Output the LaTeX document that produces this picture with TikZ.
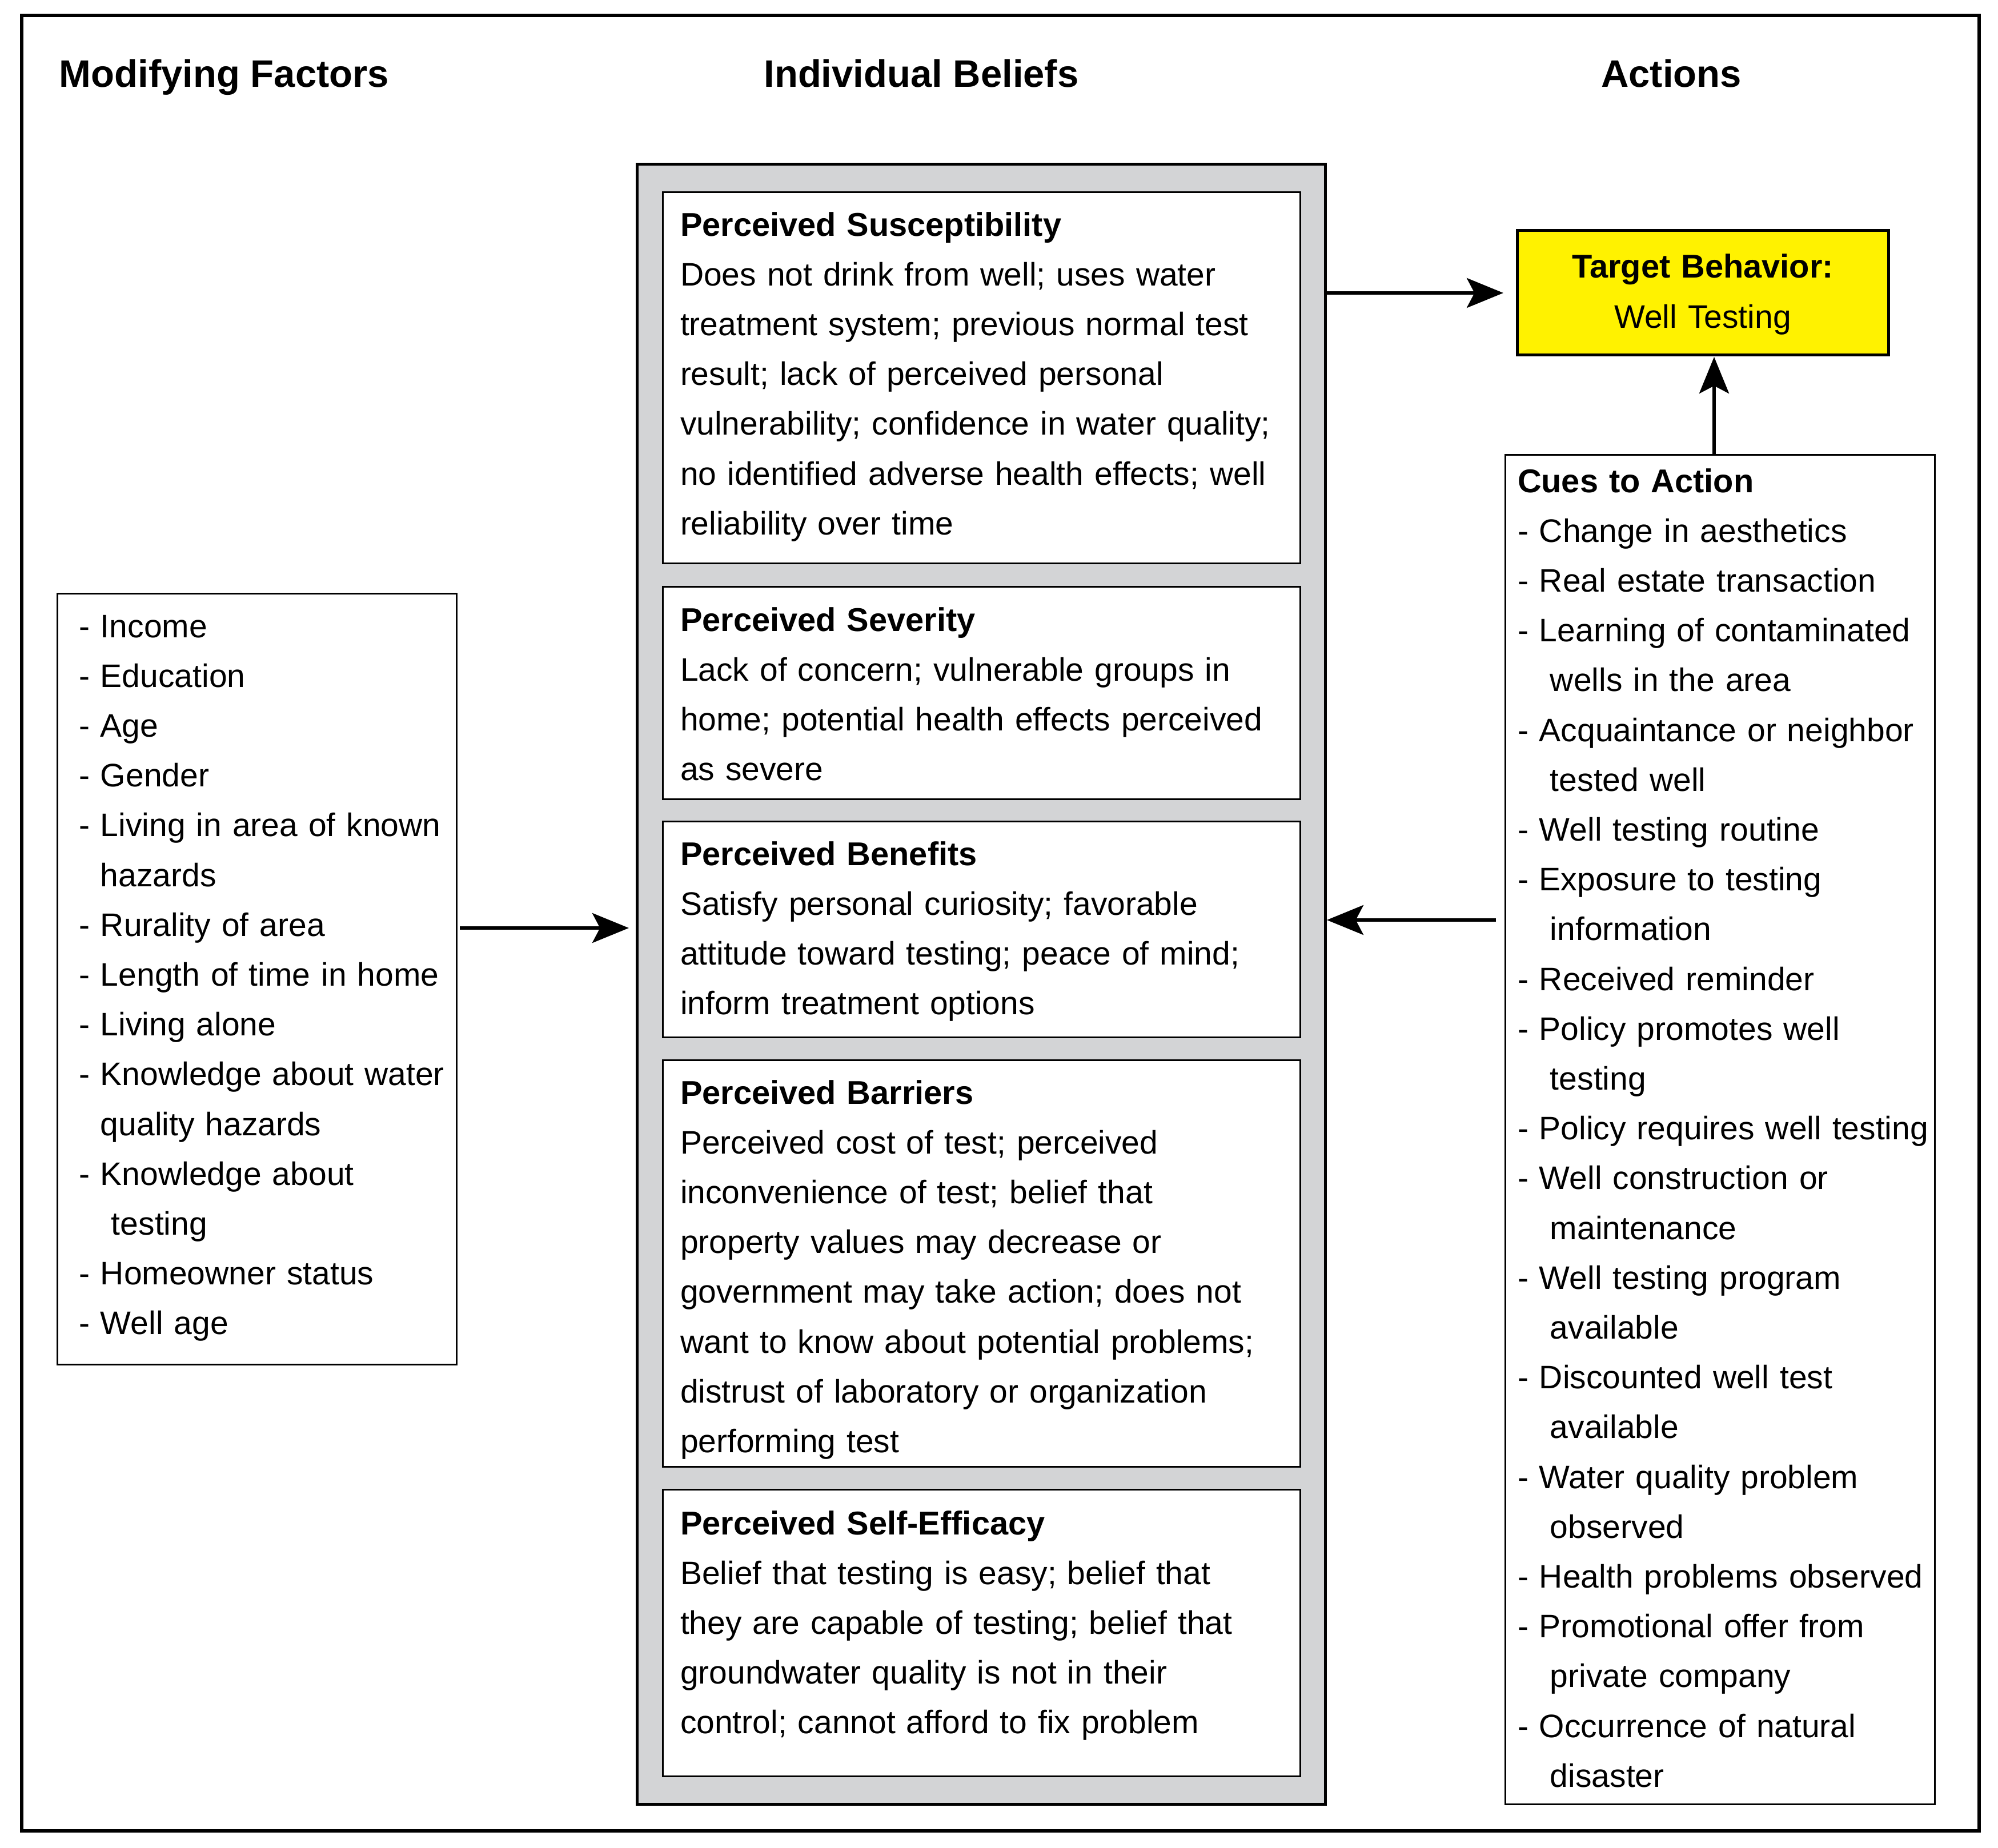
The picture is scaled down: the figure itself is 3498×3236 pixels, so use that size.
\documentclass[tikz,border=0pt]{standalone}
\usepackage{fontspec}
\setmainfont{Liberation Sans}
\usetikzlibrary{arrows.meta,calc}
\definecolor{beliefgray}{RGB}{211,212,214}
\definecolor{targetyellow}{RGB}{255,242,0}
\newcommand{\bodyfont}{\fontsize{11.4pt}{17.44pt}\selectfont}
\newcommand{\titlefont}{\fontsize{11.55pt}{17.44pt}\selectfont\bfseries}
\newcommand{\headfont}{\fontsize{13.4pt}{16pt}\selectfont\bfseries}
\newcommand{\contL}{\hphantom{-\ }}
\newcommand{\contR}{\hphantom{-\ }\ }
\begin{document}
\begin{tikzpicture}[x=0.2pt,y=-0.2pt,
  box/.style={draw, inner sep=0pt, outer sep=0pt, anchor=north west},
  txt/.style={anchor=north west, inner sep=0pt, outer sep=0pt, align=left, text width=#1, font=\bodyfont},
  txt/.default=220pt,
  head/.style={inner sep=0pt, font=\headfont},
  arr/.style={line width=1.1pt, -{Stealth[length=12.8pt,width=10.4pt,inset=2.7pt]}}]
\useasboundingbox (0,0) rectangle (3498,3236);

% outer frame
\node[box, line width=1.2pt, minimum width=685.4pt, minimum height=635.8pt] (frame) at (38,27) {};

% headers
\node[head, anchor=base west] (hmf) at (103,153) {Modifying Factors};
\node[head, anchor=base] (hib) at (1613,153) {Individual Beliefs};
\node[head, anchor=base] (hac) at (2926,153) {Actions};

% modifying factors
\node[box, line width=0.6pt, minimum width=139.8pt, minimum height=269.8pt] (mf) at (100,1040) {};
\node[txt] (mftext) at (138,1055) {\strut- Income\\
- Education\\
- Age\\
- Gender\\
- Living in area of known\\
\contL hazards\\
- Rurality of area\\
- Length of time in home\\
- Living alone\\
- Knowledge about water\\
\contL quality hazards\\
- Knowledge about\\
\contL\ testing\\
- Homeowner status\\
- Well age};

% individual beliefs
\node[box, fill=beliefgray, line width=1pt, minimum width=241pt, minimum height=574.2pt] (ib) at (1115,288) {};

\node[box, fill=white, line width=0.6pt, minimum width=223.2pt, minimum height=129.8pt] (b1) at (1160,337) {};
\node[txt] (t1) at (1191,352) {\strut{\titlefont Perceived Susceptibility}\\
Does not drink from well; uses water\\
treatment system; previous normal test\\
result; lack of perceived personal\\
vulnerability; confidence in water quality;\\
no identified adverse health effects; well\\
reliability over time};

\node[box, fill=white, line width=0.6pt, minimum width=223.2pt, minimum height=74.2pt] (b2) at (1160,1028) {};
\node[txt] (t2) at (1191,1044) {\strut{\titlefont Perceived Severity}\\
Lack of concern; vulnerable groups in\\
home; potential health effects perceived\\
as severe};

\node[box, fill=white, line width=0.6pt, minimum width=223.2pt, minimum height=75.4pt] (b3) at (1160,1439) {};
\node[txt] (t3) at (1191,1454) {\strut{\titlefont Perceived Benefits}\\
Satisfy personal curiosity; favorable\\
attitude toward testing; peace of mind;\\
inform treatment options};

\node[box, fill=white, line width=0.6pt, minimum width=223.2pt, minimum height=142.4pt] (b4) at (1160,1856) {};
\node[txt] (t4) at (1191,1872) {\strut{\titlefont Perceived Barriers}\\
Perceived cost of test; perceived\\
inconvenience of test; belief that\\
property values may decrease or\\
government may take action; does not\\
want to know about potential problems;\\
distrust of laboratory or organization\\
performing test};

\node[box, fill=white, line width=0.6pt, minimum width=223.2pt, minimum height=100.4pt] (b5) at (1160,2608) {};
\node[txt] (t5) at (1191,2626) {\strut{\titlefont Perceived Self-Efficacy}\\
Belief that testing is easy; belief that\\
they are capable of testing; belief that\\
groundwater quality is not in their\\
control; cannot afford to fix problem};

% target behavior
\node[box, fill=targetyellow, line width=1pt, minimum width=130pt, minimum height=43.6pt,
      text width=120pt, align=center, font=\bodyfont] (tb) at (2656,404)
  {\strut{\titlefont Target Behavior:}\\Well Testing\strut};

% cues to action
\node[box, line width=0.6pt, minimum width=150.4pt, minimum height=472.4pt] (cues) at (2635,797) {};
\node[txt] (cuestext) at (2657,801) {\strut{\titlefont Cues to Action}\\
- Change in aesthetics\\
- Real estate transaction\\
- Learning of contaminated\\
\contR wells in the area\\
- Acquaintance or neighbor\\
\contR tested well\\
- Well testing routine\\
- Exposure to testing\\
\contR information\\
- Received reminder\\
- Policy promotes well\\
\contR testing\\
- Policy requires well testing\\
- Well construction or\\
\contR maintenance\\
- Well testing program\\
\contR available\\
- Discounted well test\\
\contR available\\
- Water quality problem\\
\contR observed\\
- Health problems observed\\
- Promotional offer from\\
\contR private company\\
- Occurrence of natural\\
\contR disaster};

% connectors
\draw[arr, shorten >=4.8pt] (ib.east |- tb.west) -- (tb.west);
\draw[arr, shorten <=1.2pt, shorten >=2.8pt] (mf.east |- 0,1625) -- (ib.west |- 0,1625);
\draw[arr, shorten <=3.2pt, shorten >=0.6pt] (cues.west |- 0,1611) -- (ib.east |- 0,1611);
\draw[arr, shorten >=0.6pt] (cues.north -| 3001,0) -- (tb.south -| 3001,0);
\end{tikzpicture}
\end{document}
